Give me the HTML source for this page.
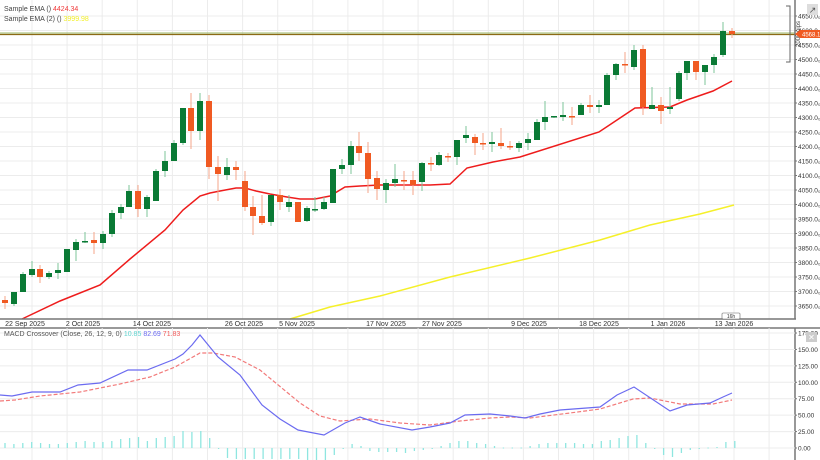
<!DOCTYPE html>
<html><head><meta charset="utf-8"><style>
body{margin:0;background:#fff;width:820px;height:460px;overflow:hidden;font-family:"Liberation Sans",sans-serif}
svg{display:block}
text{font-family:"Liberation Sans",sans-serif}
</style></head><body>
<svg id="s" width="820" height="460" viewBox="0 0 820 460" xmlns="http://www.w3.org/2000/svg">
<rect width="820" height="460" fill="#fff"/>
<g id="grid"></g>
<g id="yel"></g>
<g id="candles"></g>
<!-- axes -->
<line x1="795" y1="0" x2="795" y2="319" stroke="#777" stroke-width="1.5"/>
<line x1="0" y1="319" x2="796" y2="319" stroke="#777" stroke-width="1.5"/>
<line x1="0" y1="328" x2="820" y2="328" stroke="#999" stroke-width="2"/>
<line x1="795" y1="328" x2="795" y2="460" stroke="#777" stroke-width="1.5"/>
<g font-size="7" fill="#333" text-anchor="middle">
<text x="25" y="326">22 Sep 2025</text><text x="83" y="326">2 Oct 2025</text><text x="152" y="326">14 Oct 2025</text><text x="244" y="326">26 Oct 2025</text><text x="297" y="326">5 Nov 2025</text><text x="386" y="326">17 Nov 2025</text><text x="442" y="326">27 Nov 2025</text><text x="529" y="326">9 Dec 2025</text><text x="599" y="326">18 Dec 2025</text><text x="668" y="326">1 Jan 2026</text><text x="734" y="326">13 Jan 2026</text>
</g>
<rect x="722" y="313" width="18" height="6" fill="#fff" stroke="#666" stroke-width="0.6" rx="1"/>
<text x="731" y="318" font-size="5" text-anchor="middle" fill="#333">16h</text>
<g id="yax" font-size="6.5" fill="#333"></g>
<g id="mgrid"></g>
<g id="hist"></g>
<polyline fill="none" stroke="#f27a7a" stroke-width="1.2" stroke-dasharray="4,2" points="0,401 15,400 40,396 80,392 120,384 150,377 175,367 200,353 213,353 235,357 260,370 300,403 320,416 340,421 370,419 400,423 430,425 460,421 490,418 510,417 530,418 570,413 600,409 633,399 650,398 680,404 713,404 732,400"/>
<polyline fill="none" stroke="#6b6bf0" stroke-width="1.2" points="0,395 12,396 32,392 60,392 78,385 100,383 128,370 147,370 175,359 183,354 192,345 200,335 218,357 240,375 262,405 280,419 298,430 324,435 345,423 360,417 380,424 412,430 430,427 450,423 465,415 490,414 510,416 525,418 540,414 560,410 600,407 617,395 634,387 670,411 687,405 710,403 723,397 732,393"/>
<g id="max" font-size="6.5" fill="#333"></g>
<text x="4" y="336" font-size="7" fill="#555">MACD Crossover (Close, 26, 12, 9, 0) <tspan fill="#5fd3cf">10.85</tspan> <tspan fill="#6b6bf0">82.69</tspan> <tspan fill="#f05a5a">71.83</tspan></text>
<rect x="806" y="332" width="11" height="10" fill="#ccc"/><text x="811.5" y="340" font-size="8" fill="#fff" text-anchor="middle">✕</text>
<text x="4" y="11" font-size="7" fill="#444">Sample EMA () <tspan fill="#f03a3a">4424.34</tspan></text>
<text x="4" y="21" font-size="7" fill="#444">Sample EMA (2) () <tspan fill="#f2ef2a">3999.98</tspan></text>
<rect x="807" y="4" width="11" height="11" fill="#ddd"/><text x="812.5" y="13" font-size="9" fill="#555" text-anchor="middle">↗</text>
<path d="M786,6 H790 V62 H786" fill="none" stroke="#666" stroke-width="1"/>
<text x="0" y="0" font-size="6" fill="#444" transform="translate(800,34) rotate(-90)" text-anchor="middle">2000 pips</text>
<path d="M795,34 L800,30 H820 V38 H800 Z" fill="#f05a22"/>
<text x="802" y="36.5" font-size="6" fill="#fff">4568.11</text>
</svg>
<script>
var NS="http://www.w3.org/2000/svg";
function el(p,t,a){var e=document.createElementNS(NS,t);for(var k in a)e.setAttribute(k,a[k]);document.getElementById(p).appendChild(e);return e;}
function py(p){return 16+(4650-p)*0.29;}
// main grid
for(var p=3650;p<=4650;p+=50){var y=py(p);el("grid","line",{x1:0,x2:795,y1:y,y2:y,stroke:"#ececec","stroke-width":1});
 var t=el("yax","text",{x:798,y:y+2.5});t.textContent=p.toFixed(1)+"₀";
 el("yax","line",{x1:795,x2:797,y1:y,y2:y,stroke:"#777"});}
for(var x=32;x<795;x+=35.1){el("grid","line",{x1:x,x2:x,y1:0,y2:319,stroke:"#ececec","stroke-width":1});
 el("mgrid","line",{x1:x,x2:x,y1:328,y2:460,stroke:"#ececec","stroke-width":1});}
// EMAs
el("yel","polyline",{fill:"none",stroke:"#f5f02a","stroke-width":1.5,points:"290,319 330,307 380,296 450,277 530,258 600,240 650,225 700,214 734,205"});
el("yel","polyline",{fill:"none",stroke:"#ee1c1c","stroke-width":1.5,points:"22,319 60,301 100,285 130,259 165,230 183,210 200,196 210,193 220,191 236,188 245,188 256,191 270,194 287,197 300,199 315,199 330,196 345,187 360,186 380,185 400,185 430,185 450,184 467,168 493,162 520,157 599,132 635,108 670,107 687,100 713,91 732,81"});
el("yel","line",{x1:0,x2:795,y1:33,y2:33,stroke:"#9cb86a","stroke-width":1});
el("yel","line",{x1:0,x2:795,y1:34.5,y2:34.5,stroke:"#8b6914","stroke-width":1.3});
var C=[[5,"r",300,303,296,309],[14,"g",292,304,292,306],[23,"g",274,292,272,292],[32,"g",269,275,261,277],[40,"r",269,277,265,283],[49,"g",273,277,271,279],[58,"g",270,273,263,279],[67,"g",249,272,249,272],[76,"g",242,250,239,261],[85,"g",241,242,232,243],[94,"r",240,243,232,254],[103,"g",234,243,231,249],[112,"g",213,234,210,237],[121,"g",207,213,204,219],[129,"g",191,207,185,207],[138,"r",191,209,185,217],[147,"g",197,209,195,217],[156,"g",171,201,169,201],[165,"g",161,171,151,177],[174,"g",143,161,140,161],[183,"g",108,143,108,145],[191,"r",108,131,93,149],[200,"g",101,131,93,140],[209,"r",101,167,95,179],[218,"r",167,174,156,201],[227,"g",167,175,158,180],[236,"r",167,170,161,180],[245,"r",181,207,171,211],[253,"r",207,216,196,235],[262,"r",216,223,195,225],[271,"g",195,222,195,226],[280,"r",195,202,189,210],[289,"g",202,207,195,212],[298,"r",202,222,202,222],[307,"g",208,221,206,222],[315,"g",209,210,197,212],[324,"g",202,209,197,210],[333,"g",169,203,169,203],[342,"g",165,169,159,174],[351,"g",146,165,141,174],[359,"r",146,153,132,161],[368,"r",153,179,142,193],[377,"r",178,189,171,200],[386,"g",183,190,179,203],[395,"g",179,183,164,187],[404,"r",180,181,171,190],[413,"r",180,185,171,195],[422,"g",163,182,162,191],[431,"r",163,164,157,171],[439,"g",155,165,152,166],[448,"r",156,157,153,162],[457,"g",140,157,140,165],[466,"g",135,138,126,143],[475,"r",137,143,134,155],[483,"r",143,144,133,150],[492,"g",142,144,132,152],[501,"r",143,146,128,149],[510,"r",146,147,141,150],[519,"g",143,148,141,152],[528,"g",139,143,133,150],[537,"g",122,140,119,140],[545,"g",117,122,101,130],[554,"g",116,117,116,118],[563,"g",115,117,102,121],[572,"r",116,117,107,125],[581,"g",105,115,103,115],[590,"r",105,107,95,113],[599,"g",105,107,100,113],[607,"g",75,105,73,105],[616,"g",64,75,63,80],[625,"r",64,65,52,73],[634,"g",50,67,45,70],[643,"r",49,107,45,115],[652,"g",105,109,87,109],[661,"r",105,111,97,124],[670,"g",107,109,87,114],[679,"g",73,99,71,101],[687,"g",61,73,61,80],[696,"r",61,72,61,80],[705,"g",65,72,65,85],[714,"g",57,65,54,73],[723,"g",31,55,22,57],[732,"r",31,34,28,38]];
C.forEach(function(c){var g=c[1]=="g";
 el("candles","line",{x1:c[0],x2:c[0],y1:c[4],y2:c[5],stroke:g?"#7cc49a":"#f5a58a","stroke-width":1});
 el("candles","rect",{x:c[0]-3,y:c[2],width:6,height:Math.max(1.5,c[3]-c[2]),fill:g?"#0a7a35":"#f05a22"});});
// macd grid/axis
for(var v=0;v<=175;v+=25){var y=448-v*0.657;el("mgrid","line",{x1:0,x2:795,y1:y,y2:y,stroke:"#ececec"});
 var t=el("max","text",{x:798,y:y+2.5});t.textContent=v.toFixed(2);el("max","line",{x1:795,x2:797,y1:y,y2:y,stroke:"#777"});}
var H=[443,444,443,442,443,444,444,443,442,441,442,442,441,439,438,437,441,438,437,436,431,432,431,438,449,458,459,459,459,459,459,459,459,459,460,460,460,455,449,444,446,451,452,452,452,453,451,450,449,446,443,441,441,443,444,446,448,448,448,446,444,443,443,443,443,444,444,441,440,438,436,435,443,449,455,457,453,450,449,448,447,442,441];
H.forEach(function(h,i){var x=5+8.9*i;var a=Math.min(h,448),b=Math.max(h,448);if(b-a<0.8){a=447.5;b=448.5;}
 el("hist","line",{x1:x,x2:x,y1:a,y2:b,stroke:"#8fe6e0","stroke-width":1.3});});
</script>
</body></html>
